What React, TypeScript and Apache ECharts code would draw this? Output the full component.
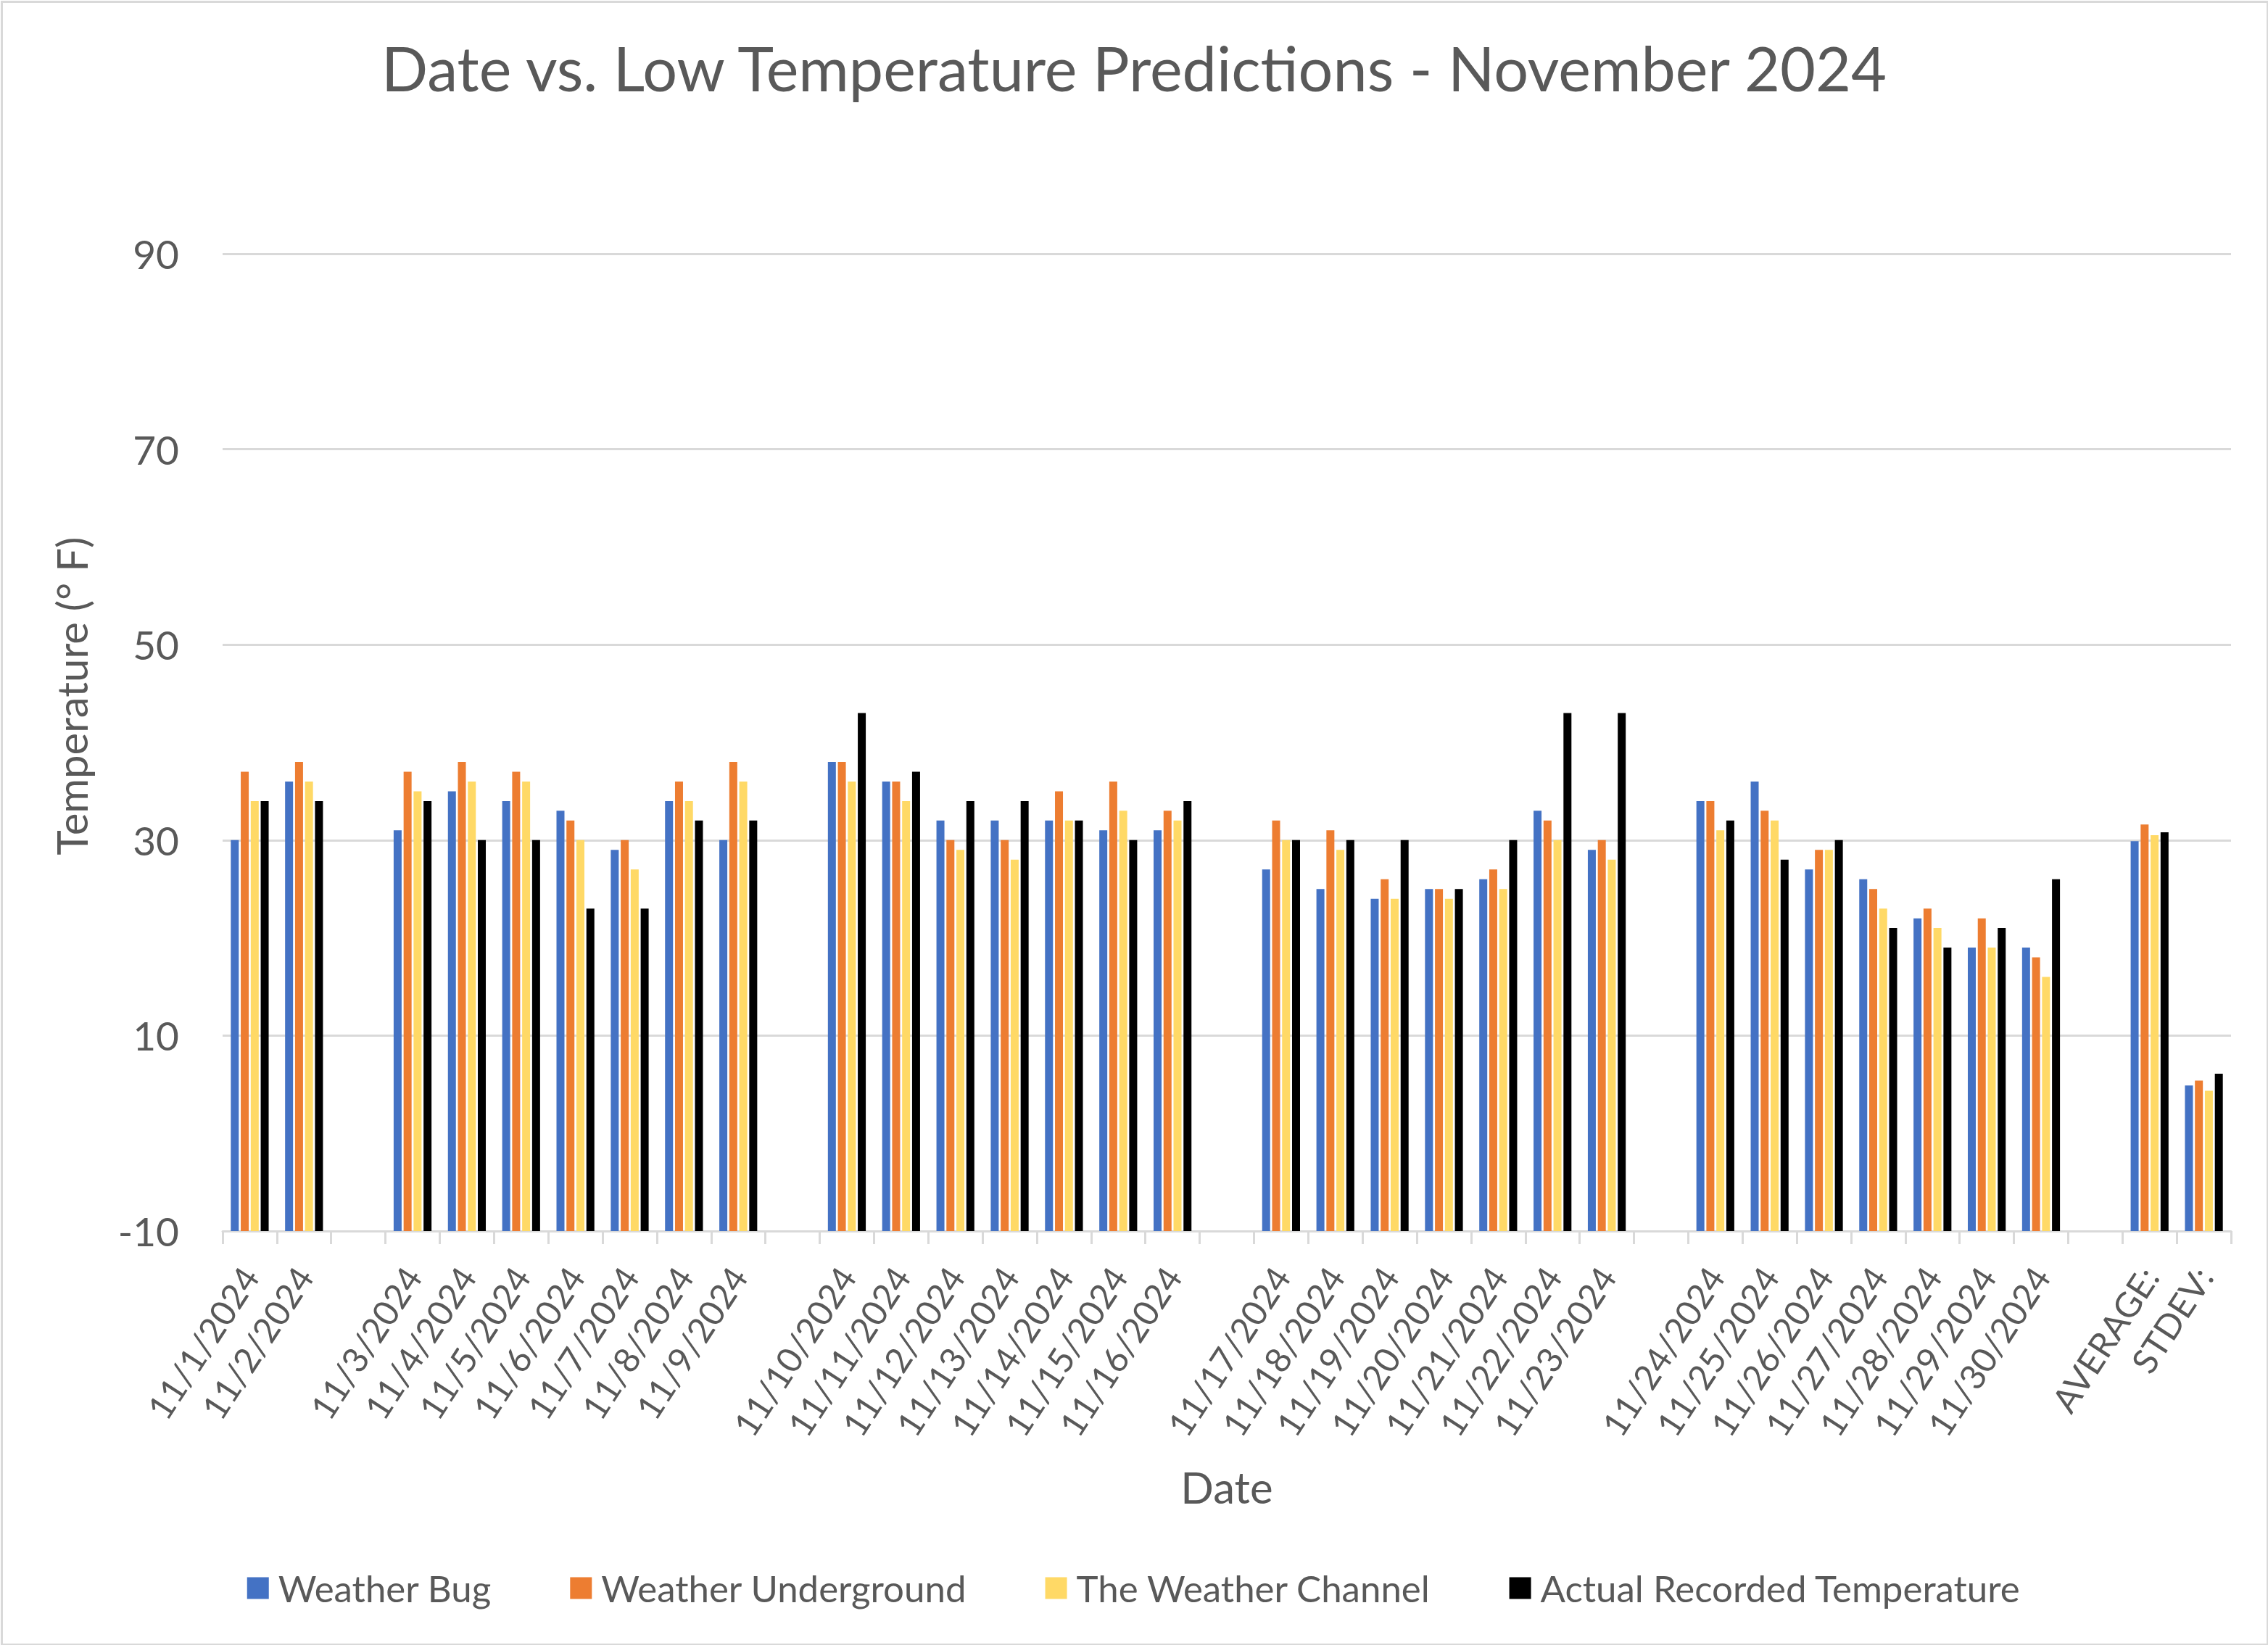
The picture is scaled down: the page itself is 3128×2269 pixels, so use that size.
import React, { useEffect, useRef } from "react";
import * as echarts from "echarts";

const categories = [
  "11/1/2024", "11/2/2024", "",
  "11/3/2024", "11/4/2024", "11/5/2024", "11/6/2024", "11/7/2024", "11/8/2024", "11/9/2024", "",
  "11/10/2024", "11/11/2024", "11/12/2024", "11/13/2024", "11/14/2024", "11/15/2024", "11/16/2024", "",
  "11/17/2024", "11/18/2024", "11/19/2024", "11/20/2024", "11/21/2024", "11/22/2024", "11/23/2024", "",
  "11/24/2024", "11/25/2024", "11/26/2024", "11/27/2024", "11/28/2024", "11/29/2024", "11/30/2024", "",
  "AVERAGE:", "STDEV:",
];

const weatherBug = [
  30, 36, null,
  31, 35, 34, 33, 29, 34, 30, null,
  38, 36, 32, 32, 32, 31, 31, null,
  27, 25, 24, 25, 26, 33, 29, null,
  34, 36, 27, 26, 22, 19, 19, null,
  29.9, 4.9,
];

const weatherUnderground = [
  37, 38, null,
  37, 38, 37, 32, 30, 36, 38, null,
  38, 36, 30, 30, 35, 36, 33, null,
  32, 31, 26, 25, 27, 32, 30, null,
  34, 33, 29, 25, 23, 22, 18, null,
  31.6, 5.4,
];

const weatherChannel = [
  34, 36, null,
  35, 36, 36, 30, 27, 34, 36, null,
  36, 34, 29, 28, 32, 33, 32, null,
  30, 29, 24, 24, 25, 30, 28, null,
  31, 32, 29, 23, 21, 19, 16, null,
  30.5, 4.35,
];

const actualRecorded = [
  34, 34, null,
  34, 30, 30, 23, 23, 32, 32, null,
  43, 37, 34, 34, 32, 30, 34, null,
  30, 30, 30, 25, 30, 43, 43, null,
  32, 28, 30, 21, 19, 21, 26, null,
  30.8, 6.1,
];

const seriesNames = [
  "Weather Bug",
  "Weather Underground",
  "The Weather Channel",
  "Actual Recorded Temperature",
];
const seriesColors = ["#4472C4", "#ED7D31", "#FFD966", "#000000"];
const yLabelValues = [-10, 10, 30, 50, 70, 90];

const W = 3128;
const H = 2269;
const FONT = "Lato, 'Noto Sans', sans-serif";
const TEXT = "#595959";
const GRID = "#D9D9D9";

export default function App() {
  const ref = useRef<HTMLDivElement>(null);

  useEffect(() => {
    if (!ref.current) return;
    const chart = echarts.init(ref.current, null, { renderer: "svg", width: W, height: H });
    const data = [weatherBug, weatherUnderground, weatherChannel, actualRecorded];
    chart.setOption({
      animation: false,
      backgroundColor: "#ffffff",
      textStyle: { fontFamily: FONT },
      grid: { left: 307, right: 51, top: 350, bottom: 571, containLabel: false },
      legend: {
        data: seriesNames,
        left: "center",
        top: 2160,
        itemWidth: 30,
        itemHeight: 30,
        itemGap: 108,
        icon: "rect",
        textStyle: { fontFamily: FONT, fontSize: 51, color: TEXT, padding: [0, 0, 0, 8] },
      },
      xAxis: {
        type: "category",
        data: categories,
        axisLine: { show: true, onZero: false, lineStyle: { color: GRID, width: 3 } },
        axisTick: { show: true, interval: 0, length: 18, lineStyle: { color: GRID, width: 3 } },
        axisLabel: {
          interval: 0,
          rotate: 57,
          margin: 54,
          fontFamily: FONT,
          fontSize: 48,
          color: TEXT,
        },
        splitLine: { show: false },
      },
      yAxis: {
        type: "value",
        min: -10,
        max: 90,
        interval: 10,
        startValue: -10,
        axisLine: { show: false },
        axisTick: { show: false },
        axisLabel: {
          margin: 60,
          fontFamily: FONT,
          fontSize: 55,
          color: TEXT,
          formatter: (v: number) => (yLabelValues.indexOf(v) >= 0 ? String(v) : ""),
        },
        splitLine: { show: true, lineStyle: { color: [GRID, "rgba(0,0,0,0)"], width: 3 } },
      },
      series: data.map((d, i) => ({
        name: seriesNames[i],
        type: "bar",
        data: d,
        barWidth: 11,
        barGap: "25%",
        itemStyle: { color: seriesColors[i] },
      })),
      graphic: [
        {
          type: "rect",
          left: 0,
          top: 0,
          shape: { x: 1.5, y: 1.5, width: W - 3, height: H - 3 },
          style: { fill: "none", stroke: GRID, lineWidth: 3 },
          silent: true,
          z: -10,
        },
        {
          type: "text",
          x: W / 2,
          y: 93,
          style: {
            text: "Date vs. Low Temperature Predictions - November 2024",
            fontFamily: FONT,
            fontSize: 84.5,
            fill: TEXT,
            align: "center",
            verticalAlign: "middle",
          },
        },
        {
          type: "text",
          x: 98,
          y: 960,
          rotation: Math.PI / 2,
          style: {
            text: "Temperature (° F)",
            fontFamily: FONT,
            fontSize: 58,
            fill: TEXT,
            align: "center",
            verticalAlign: "middle",
          },
        },
        {
          type: "text",
          x: 1692,
          y: 2051,
          style: {
            text: "Date",
            fontFamily: FONT,
            fontSize: 60,
            fill: TEXT,
            align: "center",
            verticalAlign: "middle",
          },
        },
      ],
    });
    return () => chart.dispose();
  }, []);

  return (
    <div
      ref={ref}
      style={{ position: "fixed", left: 0, top: 0, width: W, height: H, background: "#fff" }}
    />
  );
}
